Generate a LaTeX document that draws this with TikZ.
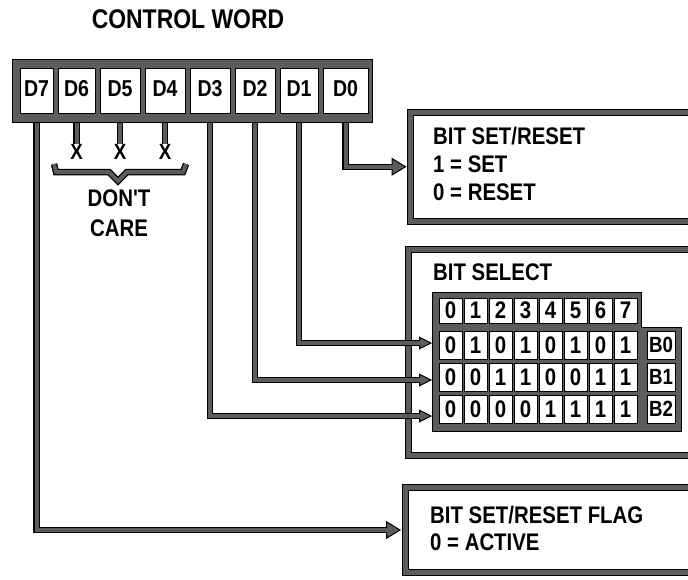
\documentclass[tikz,border=0pt]{standalone}
\usepackage{fontspec}
\newfontfamily\pix[FakeStretch=0.85]{Liberation Sans}
\usetikzlibrary{arrows.meta}
\definecolor{bandgray}{HTML}{5C5C5C}
\newcommand\plainwire[1]{\draw[wireout] #1; \draw[wirein] #1;}
\newcommand\arrwire[4]{%
  \draw[wireout, -{Triangle[width=#3,length=#4,line width=1pt,fill=bandgray]}, shorten >=#2] #1;
  \draw[wirein, shorten >=#2+#4-1.5pt] #1;}
\begin{document}
\begin{tikzpicture}[x=1pt,y=-1pt,
  wireout/.style={line width=6.5pt, draw=black},
  wirein/.style={line width=4pt, draw=bandgray},
  bandbox/.style={draw=black, line width=1pt, double=bandgray, double distance=5pt, fill=white, inner sep=0pt},
  cwbox/.style={draw=black, fill=bandgray, line width=1pt, inner sep=0pt},
  dcell/.style={draw=black, fill=white, line width=1pt, inner sep=0pt, minimum height=45pt,
     font=\pix\bfseries\fontsize{23}{23}\selectfont},
  tcell/.style={draw=black, fill=white, line width=1pt, inner sep=0pt, minimum width=23pt,
     font=\pix\bfseries\fontsize{24}{24}\selectfont},
  txt/.style={inner sep=0pt, anchor=base west, font=\pix\bfseries\fontsize{24}{24}\selectfont},
  ctxt/.style={inner sep=0pt, anchor=base, font=\pix\bfseries\fontsize{24}{24}\selectfont},
  xtxt/.style={inner sep=0pt, font=\pix\bfseries\fontsize{22}{22}\selectfont}]
\useasboundingbox (0,0) rectangle (688,579);
\clip (0,0) rectangle (688,579);
\fill[white] (0,0) rectangle (688,579);

% right-hand boxes
\node[bandbox, minimum width=310pt, minimum height=109.5pt, anchor=north west] (b1) at (410,111.5) {};
\node[bandbox, minimum width=310pt, minimum height=206pt, anchor=north west] (b2) at (408,248.5) {};
\node[bandbox, minimum width=310pt, minimum height=85pt, anchor=north west] (b3) at (404.5,487) {};

% entry points of the bit-select rows
\coordinate (in0) at (432,343);
\coordinate (in1) at (432,380);
\coordinate (in2) at (432,416);

% control word cells (positions)
\coordinate (pd7) at (36.5,90.5);
\coordinate (pd6) at (76.5,90.5);
\coordinate (pd5) at (120,90.5);
\coordinate (pd4) at (165,90.5);
\coordinate (pd3) at (210,90.5);
\coordinate (pd2) at (255,90.5);
\coordinate (pd1) at (299,90.5);
\coordinate (pd0) at (345.5,90.5);

% X marks
\node[xtxt] (x6) at (76.5,152) {X};
\node[xtxt] (x5) at (120,152) {X};
\node[xtxt] (x4) at (165,152) {X};

% wires (drawn before the control word box)
\plainwire{(pd6) -- (x6.north)}
\plainwire{(pd5) -- (x5.north)}
\plainwire{(pd4) -- (x4.north)}
\arrwire{(pd0) |- (b1.west)}{3.5pt}{18pt}{15pt}
\arrwire{(pd1) |- (in0)}{0pt}{13pt}{13pt}
\arrwire{(pd2) |- (in1)}{0pt}{13pt}{13pt}
\arrwire{(pd3) |- (in2)}{0pt}{13pt}{13pt}
\arrwire{(pd7) |- (b3.west)}{3.5pt}{18pt}{15pt}

% control word box
\node[cwbox, minimum width=360pt, minimum height=63pt] (cw) at (192,90.5) {};
\node[dcell, minimum width=33pt] (d7) at (pd7) {\raisebox{4pt}{D7}};
\node[dcell, minimum width=37pt] (d6) at (pd6) {\raisebox{4pt}{D6}};
\node[dcell, minimum width=40pt] (d5) at (pd5) {\raisebox{4pt}{D5}};
\node[dcell, minimum width=40pt] (d4) at (pd4) {\raisebox{4pt}{D4}};
\node[dcell, minimum width=40pt] (d3) at (pd3) {\raisebox{4pt}{D3}};
\node[dcell, minimum width=40pt] (d2) at (pd2) {\raisebox{4pt}{D2}};
\node[dcell, minimum width=38pt] (d1) at (pd1) {\raisebox{4pt}{D1}};
\node[dcell, minimum width=45pt] (d0) at (pd0) {\raisebox{4pt}{D0}};

\node[ctxt, font=\pix\bfseries\fontsize{27}{27}\selectfont] (title) at (188,28) {CONTROL WORD};

% brace under the X marks
\plainwire{(54,164) -- (56,172) -- (109,172) -- (118,181) -- (127,172) -- (183,172) -- (186,164)}
\node[ctxt] (dont) at (119,206) {DON'T};
\node[ctxt] (care) at (119,236) {CARE};

% texts of the boxes
\node[txt] (t1a) at (433,144.5) {BIT SET/RESET};
\node[txt] (t1b) at (433,172.5) {1 = SET};
\node[txt] (t1c) at (433,200.5) {0 = RESET};
\node[txt] (t2a) at (433,280.5) {BIT SELECT};
\node[txt] (t3a) at (430,523) {BIT SET/RESET FLAG};
\node[txt] (t3b) at (430,550) {0 = ACTIVE};

% bit select table
\draw[black, fill=bandgray, line width=1pt] (432,292) -- (641,292) -- (641,327) -- (681,327) -- (681,431) -- (432,431) -- cycle;
\foreach \i in {0,...,7} {
  \node[tcell, minimum height=25pt] (h\i) at ({450.5+25*\i},310.5) {\i};
}
\foreach \b [count=\i from 0] in {0,1,0,1,0,1,0,1} {
  \node[tcell, minimum height=28pt] (ra\i) at ({450.5+25*\i},345) {\b};
}
\foreach \b [count=\i from 0] in {0,0,1,1,0,0,1,1} {
  \node[tcell, minimum height=28pt] (rb\i) at ({450.5+25*\i},377) {\b};
}
\foreach \b [count=\i from 0] in {0,0,0,0,1,1,1,1} {
  \node[tcell, minimum height=28pt] (rc\i) at ({450.5+25*\i},409) {\b};
}
\node[tcell, minimum width=28pt, minimum height=28pt, font=\pix\bfseries\fontsize{22}{22}\selectfont] (l0) at (661,345) {B0};
\node[tcell, minimum width=28pt, minimum height=28pt, font=\pix\bfseries\fontsize{22}{22}\selectfont] (l1) at (661,377) {B1};
\node[tcell, minimum width=28pt, minimum height=28pt, font=\pix\bfseries\fontsize{22}{22}\selectfont] (l2) at (661,409) {B2};
\end{tikzpicture}
\end{document}
